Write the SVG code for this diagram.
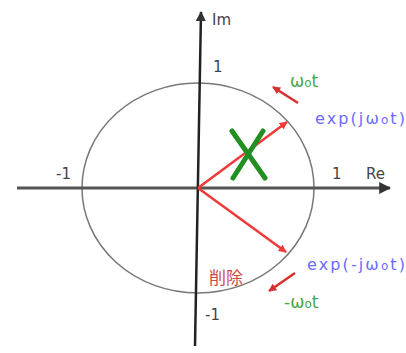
<svg xmlns="http://www.w3.org/2000/svg" width="406" height="353" viewBox="0 0 406 353">
<style>
.lbl{font-family:"DejaVu Sans","Noto Sans CJK JP",sans-serif;font-size:15px;fill:#444}
.grn{font-family:"DejaVu Sans",sans-serif;font-size:17px;fill:#4aa64a}
.blu{font-family:"DejaVu Sans",sans-serif;font-size:16px;fill:#6b6bff}
.red{font-family:"Noto Sans CJK JP",sans-serif;font-size:17px;fill:#d04848}
.vec{stroke:#f03a3a;stroke-width:2.5;fill:none}
.rot{stroke:#d83030;stroke-width:2.5;fill:none}
</style>
<defs>
<marker id="ah" viewBox="0 0 10 10" refX="9" refY="5" markerWidth="4" markerHeight="4" orient="auto"><path d="M0,0L10,5L0,10z" fill="#333"/></marker>
<marker id="rh" viewBox="0 0 10 10" refX="9" refY="5" markerWidth="3.2" markerHeight="3.2" orient="auto"><path d="M0,0L10,5L0,10z" fill="#f03a3a"/></marker>
<marker id="rh2" viewBox="0 0 10 10" refX="9" refY="5" markerWidth="3.2" markerHeight="3.2" orient="auto"><path d="M0,0L10,5L0,10z" fill="#d83030"/></marker>
</defs>
<g id="circle"><ellipse cx="198" cy="188" rx="116" ry="105" fill="none" stroke="#777" stroke-width="1.5"/></g>
<g id="axes">
<line x1="17" y1="188" x2="390" y2="188" stroke="#555" stroke-width="3" marker-end="url(#ah)"/>
<line x1="195" y1="346" x2="201" y2="12" stroke="#222" stroke-width="2.5" marker-end="url(#ah)"/>
</g>
<g id="connectors">
<line class="vec" x1="198" y1="188" x2="287" y2="122" marker-end="url(#rh)"/>
<line class="vec" x1="198" y1="188" x2="286" y2="252" marker-end="url(#rh)"/>
<line class="rot" x1="298" y1="103" x2="273" y2="87" marker-end="url(#rh2)"/>
<line class="rot" x1="295" y1="273" x2="269" y2="291" marker-end="url(#rh2)"/>
</g>
<g id="cross" stroke="#238f23" stroke-width="5" stroke-linecap="round">
<line x1="232" y1="131" x2="265" y2="178"/>
<line x1="263" y1="131" x2="233" y2="178"/>
</g>
<g id="labels">
<text class="lbl" x="212" y="25">Im</text>
<text class="lbl" x="213" y="72">1</text>
<text class="lbl" x="56" y="179">-1</text>
<text class="lbl" x="332" y="179">1</text>
<text class="lbl" x="366" y="179">Re</text>
<text class="lbl" x="205" y="320">-1</text>
<text class="grn" x="290" y="87">ω<tspan font-size="12">o</tspan>t</text>
<text class="blu" x="315" y="124" textLength="90">exp(jω<tspan font-size="12">o</tspan>t)</text>
<text class="blu" x="307" y="270" textLength="98">exp(-jω<tspan font-size="12">o</tspan>t)</text>
<text class="grn" x="284" y="308">-ω<tspan font-size="12">o</tspan>t</text>
<text class="red" x="209" y="284">削除</text>
</g>
</svg>
